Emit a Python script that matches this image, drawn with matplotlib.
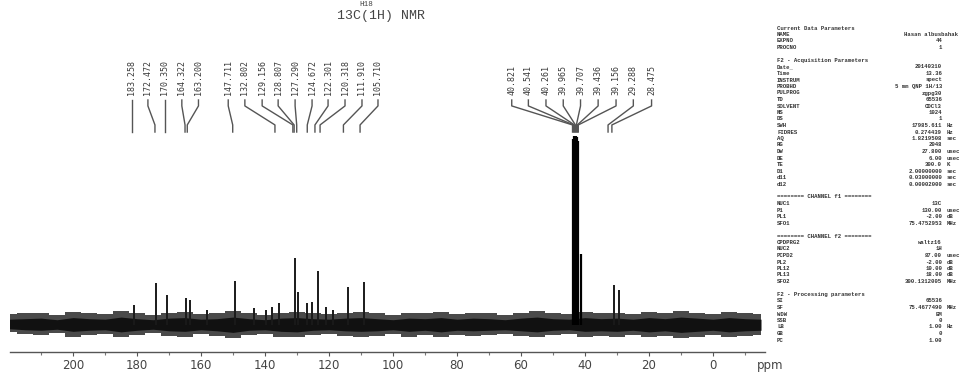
import matplotlib
matplotlib.use("Agg")
import matplotlib.pyplot as plt
import numpy as np

# ---------------- data ----------------
# resolved carbon peaks: position on the drawn ppm axis, relative intensity
peak_ppm = [181.0, 174.0, 170.6, 164.7, 163.4, 158.0, 149.4, 143.4, 139.7, 137.8,
            135.6, 130.6, 129.7, 127.0, 125.3, 123.4, 120.8, 118.7, 114.0, 109.0,
            31.0, 29.4]
peak_int = [10.4, 22.0, 15.6, 14.0, 13.0, 7.8, 23.0, 9.0, 7.8, 9.4,
            11.5, 35.0, 17.0, 11.5, 12.0, 28.0, 9.4, 7.8, 20.0, 22.4,
            21.0, 18.0]

# solvent multiplet (very tall, saturated black)
solvent_ppm = [43.6, 43.3, 43.0, 42.7, 42.4, 42.1, 41.2]
solvent_int = [97.0, 98.5, 98.5, 98.5, 98.0, 96.0, 37.0]

# baseline noise envelope, every 5 ppm from 220 to -15
noise_ppm = np.arange(220, -16, -5)
noise_hi = [5.5, 6.0, 6.5, 5.0, 7.0, 6.0, 5.5, 7.5, 6.0, 5.0, 6.5, 7.0, 5.5, 6.0, 7.5, 6.0,
            5.0, 6.5, 7.0, 6.0, 5.5, 6.5, 7.0, 6.0, 5.0, 6.5, 6.0, 7.0, 5.5, 6.5, 6.0, 5.0,
            6.5, 7.5, 6.0, 5.5, 7.0, 6.0, 6.5, 5.5, 7.0, 6.0, 7.5, 6.5, 5.5, 7.0, 6.0, 5.5]
noise_lo = [-3.5, -4.5, -5.0, -4.0, -6.0, -5.0, -4.5, -6.5, -5.0, -4.0, -5.5, -6.0, -4.5, -5.5, -7.0, -5.0,
            -4.5, -6.0, -6.5, -5.0, -4.5, -5.5, -6.0, -5.5, -4.5, -6.0, -5.0, -6.5, -5.0, -5.5, -5.0, -4.5,
            -5.5, -6.5, -5.0, -4.5, -6.0, -5.5, -6.0, -5.0, -6.5, -5.5, -7.0, -6.0, -5.0, -6.5, -5.5, -5.0]

# peak picking labels
left_labels = ["183.258", "172.472", "170.350", "164.322", "163.200", "147.711",
               "132.802", "129.156", "128.807", "127.290", "124.672", "122.301",
               "120.318", "111.910", "105.710"]
right_labels = ["40.821", "40.541", "40.261", "39.965", "39.707", "39.436",
                "39.156", "29.288", "28.475"]

x_ticks = [0, 20, 40, 60, 80, 100, 120, 140, 160, 180, 200]

# acquisition / processing parameter listing: (label, value, unit)
params = [
    ("Current Data Parameters", None, None),
    ("NAME", "Hasan albusbahak", None),
    ("EXPNO", "44", None),
    ("PROCNO", "1", None),
    ("", None, None),
    ("F2 - Acquisition Parameters", None, None),
    ("Date_", "20140310", None),
    ("Time", "13.36", None),
    ("INSTRUM", "spect", None),
    ("PROBHD", "5 mm QNP 1H/13", None),
    ("PULPROG", "zgpg30", None),
    ("TD", "65536", None),
    ("SOLVENT", "CDCl3", None),
    ("NS", "1024", None),
    ("DS", "1", None),
    ("SWH", "17985.611", "Hz"),
    ("FIDRES", "0.274439", "Hz"),
    ("AQ", "1.8219508", "sec"),
    ("RG", "2048", None),
    ("DW", "27.800", "usec"),
    ("DE", "6.00", "usec"),
    ("TE", "300.0", "K"),
    ("D1", "2.00000000", "sec"),
    ("d11", "0.03000000", "sec"),
    ("d12", "0.00002000", "sec"),
    ("", None, None),
    ("======== CHANNEL f1 ========", None, None),
    ("NUC1", "13C", None),
    ("P1", "130.00", "usec"),
    ("PL1", "-2.00", "dB"),
    ("SFO1", "75.4752953", "MHz"),
    ("", None, None),
    ("======== CHANNEL f2 ========", None, None),
    ("CPDPRG2", "waltz16", None),
    ("NUC2", "1H", None),
    ("PCPD2", "87.00", "usec"),
    ("PL2", "-2.00", "dB"),
    ("PL12", "10.00", "dB"),
    ("PL13", "18.00", "dB"),
    ("SFO2", "300.1312005", "MHz"),
    ("", None, None),
    ("F2 - Processing parameters", None, None),
    ("SI", "65536", None),
    ("SF", "75.4677490", "MHz"),
    ("WDW", "EM", None),
    ("SSB", "0", None),
    ("LB", "1.00", "Hz"),
    ("GB", "0", None),
    ("PC", "1.00", None),
]

# ---------------- layout ----------------
W, H = 971, 374
fig = plt.figure(figsize=(W / 100, H / 100), dpi=100)
fig.patch.set_facecolor("white")

def fx(px):
    return px / W

def fy(py):
    return 1 - py / H

ax = fig.add_axes([fx(10), fy(352), 755 / W, 352 / H])
ax.set_xlim(219.7, -16.25)
ax.set_ylim(-14.06, 169.27)
ax.set_facecolor("none")
for s in ("top", "left", "right"):
    ax.spines[s].set_visible(False)
ax.spines["bottom"].set_color("#555555")
ax.spines["bottom"].set_linewidth(1.0)
ax.set_yticks([])
ax.set_xticks(x_ticks)
ax.set_xticklabels([str(t) for t in x_ticks], fontsize=8.5, color="#444444",
                   family="DejaVu Sans")
ax.set_xticks([t + 10 for t in range(-20, 220, 20)], minor=True)
ax.tick_params(axis="x", which="major", direction="out", length=3, width=0.8,
               color="#555555", pad=2)
ax.tick_params(axis="x", which="minor", direction="out", length=2, width=0.8,
               color="#777777")

# baseline noise
ax.fill_between(noise_ppm, noise_lo, noise_hi, step="mid", color="#4a4a4a", lw=0)
ax.fill_between(noise_ppm, np.array(noise_lo) * 0.55, np.array(noise_hi) * 0.55,
                color="#111111", lw=0)

# peaks
ax.vlines(peak_ppm, 0, peak_int, color="#1a1a1a", lw=1.4)
ax.vlines(solvent_ppm, 0, solvent_int, color="#000000", lw=1.6)

# peak-picking leader lines (layout: label column position and target position, in ppm)
left_label_pos = [181.6, 176.6, 171.3, 166.0, 160.8, 151.5, 146.3, 140.9, 135.9,
                  130.6, 125.3, 120.3, 115.0, 109.7, 104.7]
left_target_pos = [181.6, 174.4, 171.3, 165.0, 164.3, 150.1, 136.9, 131.3, 130.9,
                   130.1, 126.8, 124.4, 122.8, 115.5, 110.3]
right_label_pos = [62.9, 57.7, 52.2, 46.8, 41.4, 35.9, 30.3, 24.9, 19.2]
right_target_pos = [43.9, 43.6, 43.3, 43.0, 42.7, 42.4, 42.1, 32.8, 31.6]

y_text, y_top, y_b1, y_b2, y_end = 119.8, 117.2, 114.1, 104.2, 100.5
lab_font = dict(rotation=90, ha="center", va="bottom", fontsize=6,
                family="DejaVu Sans Mono", color="#3a3a3a")
for lab, lp, tp in zip(left_labels + right_labels,
                       left_label_pos + right_label_pos,
                       left_target_pos + right_target_pos):
    ax.plot([lp, lp, tp, tp], [y_top, y_b1, y_b2, y_end], color="#555555",
            lw=1.0, clip_on=False)
    ax.text(lp, y_text, lab, **lab_font)

# solvent convergence block
ax.fill([44.1, 42.2, 42.2, 44.1], [100.5, 100.5, 103.6, 103.6], color="#111111", lw=0)

# titles
fig.text(fx(366), fy(5), "H18", ha="center", va="center", fontsize=5.5,
         family="Liberation Mono", color="#444444")
fig.text(fx(381), fy(16), "13C(1H) NMR", ha="center", va="center", fontsize=9.5,
         family="Liberation Mono", color="#444444")
fig.text(fx(757), fy(365), "ppm", ha="left", va="center", fontsize=8.5,
         family="DejaVu Sans", color="#444444")

# parameter listing
pf = dict(fontsize=4.1, family="Liberation Mono", fontweight="bold",
          color="#333333", va="center")
y0, dy = 28.0, 6.5
for i, (lab, val, unit) in enumerate(params):
    y = y0 + i * dy
    if lab:
        fig.text(fx(777), fy(y), lab, ha="left", **pf)
    if val is not None:
        xr = 958 if lab == "NAME" else 942
        fig.text(fx(xr), fy(y), val, ha="right", **pf)
    if unit is not None:
        fig.text(fx(947), fy(y), unit, ha="left", **pf)

fig.savefig("out.png", dpi=100, facecolor="white")
